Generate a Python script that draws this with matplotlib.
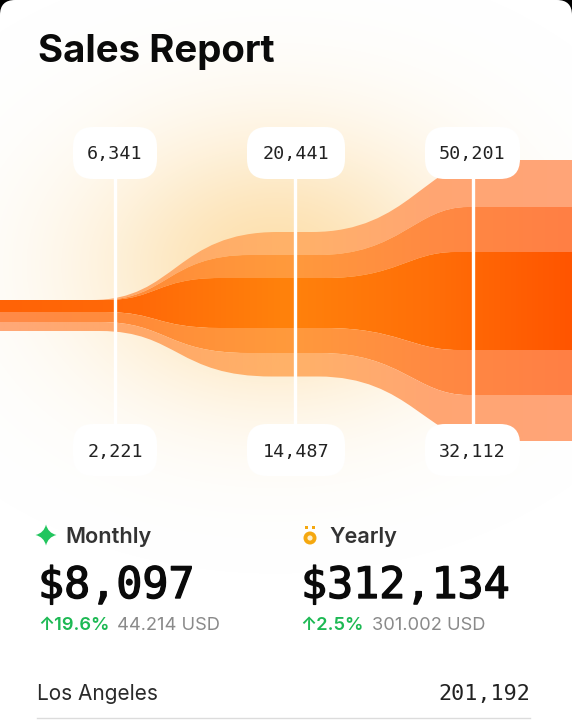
import numpy as np
import matplotlib
matplotlib.use('Agg')
import matplotlib.pyplot as plt
import matplotlib.patheffects as pe
from matplotlib.colors import LinearSegmentedColormap
from matplotlib.patches import FancyBboxPatch, PathPatch, Circle, Rectangle
from matplotlib.path import Path

W, H = 572, 721

# band edges, top to bottom: y level on each of the three flat stretches
edge_levels = [
    [300, 232, 160],
    [300, 255, 207],
    [300, 278, 252],
    [312, 328, 350],
    [322, 353, 395],
    [331, 376.5, 441],
]
# x where each edge starts rising, levels off, leaves again, levels off
edge_knots = [
    [92, 278, 312, 488],
    [100, 250, 318, 468],
    [105, 220, 325, 455],
    [105, 220, 325, 458],
    [100, 248, 320, 468],
    [100, 272, 318, 486],
]

# colours left / middle / right of each band
dark_band = ['#ff6306', '#ff6a08', '#ff820c', '#ff6f08', '#ff5500']
mid_band = ['#ff8a48', '#ff8c38', '#ff9a3c', '#ff8a42', '#ff7f45']
light_band = ['#ffa878', '#ffa868', '#ffb268', '#ffa672', '#ffa478']
band_colors = [light_band, mid_band, dark_band, mid_band, light_band]

stage_x = [115, 295, 473]
top_labels = ['6,341', '20,441', '50,201']
bottom_labels = ['2,221', '14,487', '32,112']
box_spans = [(73, 157), (247, 345), (425, 520)]

plt.rcParams['font.family'] = ['Inter', 'DejaVu Sans']
mono = ['DejaVu Sans Mono']

fig = plt.figure(figsize=(W / 100, H / 100), dpi=100, facecolor='black')
ax = fig.add_axes([0, 0, 1, 1])
ax.set_axis_off()

# white card with rounded top corners
ax.add_patch(FancyBboxPatch((15, 15), W - 30, H + 60,
                            boxstyle='round,pad=15,rounding_size=15',
                            fc='white', ec='none', zorder=0))

# soft glow behind the bands
yy, xx = np.mgrid[0:H, 0:W]
glow = np.exp(-(((xx - 275) / 185.0) ** 2 + ((yy - 265) / 135.0) ** 2))
glow_img = np.zeros((H, W, 4))
glow_img[..., :3] = matplotlib.colors.to_rgb('#fcd48e')
glow_img[..., 3] = np.clip(glow * 0.72, 0, 1)
ax.imshow(glow_img, extent=(0, W, H, 0), aspect='auto', zorder=1, interpolation='bilinear')


def edge_path_points(levels, knots):
    # one edge, left to right, as flat runs joined by s-curves
    y0, y1, y2 = levels
    x0, x1, x2, x3 = knots
    d1 = x1 - x0
    d2 = x3 - x2
    return [(x0, y0),
            (x0 + d1 * 0.45, y0), (x1 - d1 * 0.55, y1), (x1, y1),
            (x2, y1),
            (x2 + d2 * 0.55, y1), (x3 - d2 * 0.35, y2), (x3, y2)]


for i, colors in enumerate(band_colors):
    upper = edge_path_points(edge_levels[i], edge_knots[i])
    lower = edge_path_points(edge_levels[i + 1], edge_knots[i + 1])
    verts = [(0, edge_levels[i][0])] + upper + [(W, edge_levels[i][2])]
    codes = [Path.MOVETO, Path.LINETO] + [Path.CURVE4] * 3 + [Path.LINETO] + [Path.CURVE4] * 3 + [Path.LINETO]
    verts += [(W, edge_levels[i + 1][2])]
    codes += [Path.LINETO]
    verts += lower[::-1]
    codes += [Path.LINETO] + [Path.CURVE4] * 3 + [Path.LINETO] + [Path.CURVE4] * 3
    verts += [(0, edge_levels[i + 1][0]), (0, edge_levels[i][0])]
    codes += [Path.LINETO, Path.CLOSEPOLY]
    patch = PathPatch(Path(verts, codes), fc='none', ec='none', zorder=2)
    ax.add_patch(patch)
    cmap = LinearSegmentedColormap.from_list('band', colors)
    img = ax.imshow(np.linspace(0, 1, 256)[None, :], extent=(0, W, H, 0), aspect='auto',
                    cmap=cmap, zorder=2)
    img.set_clip_path(patch)

# stage lines and value boxes
for x, top, bottom, (x0, x1) in zip(stage_x, top_labels, bottom_labels, box_spans):
    ax.plot([x, x], [175, 428], color='white', lw=2.4, zorder=3, solid_capstyle='butt')
    for y0, label, ty in [(127, top, 154), (424, bottom, 452)]:
        ax.add_patch(FancyBboxPatch((x0 + 20, y0 + 20), x1 - x0 - 40, 12,
                                    boxstyle='round,pad=20,rounding_size=20',
                                    fc='white', ec='none', zorder=4))
        ax.text((x0 + x1) / 2, ty, label, family=mono, fontsize=13.2, color='#222222',
                ha='center', va='center', zorder=5)

# heading
ax.text(38, 62, 'Sales Report', fontsize=27.7, fontweight='bold', color='#0a0a0a',
        va='baseline', zorder=6)

# green sparkle icon
sx, sy, r, k = 46, 535, 10.5, 2
ax.add_patch(PathPatch(Path(
    [(sx, sy - r), (sx + k, sy - k), (sx + r, sy), (sx + k, sy + k), (sx, sy + r),
     (sx - k, sy + k), (sx - r, sy), (sx - k, sy - k), (sx, sy - r)],
    [Path.MOVETO] + [Path.CURVE3] * 8), fc='#22c55e', ec='none', zorder=6))

# orange medal icon
ax.add_patch(Circle((310, 538), 6.5, fc='#f5a80f', ec='none', zorder=6))
ax.add_patch(Circle((310, 538), 2.6, fc='#fdeec8', ec='none', zorder=7))
for mx in (306.5, 313.5):
    ax.add_patch(Rectangle((mx - 1.5, 526), 3, 3, fc='#f5a80f', ec='none', zorder=6))

ax.text(65, 543, 'Monthly', fontsize=15.6, fontweight='semibold', color='#333333', zorder=6)
ax.text(329, 543, 'Yearly', fontsize=15.6, fontweight='semibold', color='#333333', zorder=6)

thick = [pe.withStroke(linewidth=1.0, foreground='#0a0a0a')]
ax.text(38, 598, '$8,097', family=mono, fontsize=31.2, color='#0a0a0a', zorder=6, path_effects=thick)
ax.text(301, 598, '$312,134', family=mono, fontsize=31.2, color='#0a0a0a', zorder=6, path_effects=thick)

ax.text(38, 630, '↑19.6%', fontsize=13.2, fontweight='semibold', color='#1db954', zorder=6)
ax.text(117, 630, '44.214 USD', fontsize=13.2, color='#8a8a8a', zorder=6)
ax.text(300, 630, '↑2.5%', fontsize=13.2, fontweight='semibold', color='#1db954', zorder=6)
ax.text(372, 630, '301.002 USD', fontsize=13.2, color='#8a8a8a', zorder=6)

ax.text(37, 700, 'Los Angeles', fontsize=15, color='#2a2a2a', zorder=6)
ax.text(530, 700, '201,192', family=mono, fontsize=15.7, color='#222222', ha='right', zorder=6)
ax.plot([37, 530], [718, 718], color='#dcdcdc', lw=1, zorder=6)

ax.set_xlim(0, W)
ax.set_ylim(H, 0)

plt.savefig('out.png', dpi=100, facecolor='black')
